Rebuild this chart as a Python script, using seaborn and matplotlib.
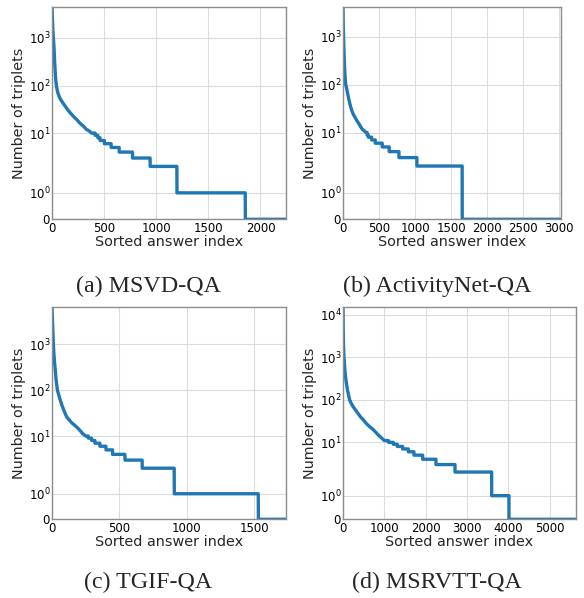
import matplotlib
matplotlib.use("Agg")
import matplotlib.pyplot as plt
import seaborn as sns
import pandas as pd
from matplotlib.ticker import MultipleLocator

# head of each curve: (sorted answer index, number of triplets)
msvd_head_idx = [0, 4, 8, 13, 17, 20, 25, 30, 33, 37, 42, 50, 60, 75, 90, 108, 126, 150, 180, 210,
                 240, 270, 302, 330, 360]
msvd_head_cnt = [4400, 2500, 1500, 1000, 750, 580, 330, 200, 158, 125, 100, 80, 66, 55, 48, 42, 37, 31, 26, 22,
                 19, 16, 14, 12, 11]
# tail: plateau count and the first index that has it
msvd_levels = [10, 9, 8, 7, 6, 5, 4, 3, 2, 1, 0]
msvd_starts = [380, 415, 440, 462, 503, 568, 645, 773, 942, 1199, 1855]
msvd_total = 2245

anet_head_idx = [0, 3, 8, 12, 16, 20, 25, 31, 38, 51, 65, 79, 95, 110, 125, 143, 165, 190, 212, 236,
                 262, 290]
anet_head_cnt = [4100, 2000, 1000, 600, 400, 270, 180, 130, 100, 83, 65, 51, 40, 33, 28, 24, 21, 18, 16, 14,
                 12, 11]
anet_levels = [10, 9, 8, 7, 6, 5, 4, 3, 2, 0]
anet_starts = [320, 335, 351, 398, 448, 545, 642, 777, 1026, 1655]
anet_total = 3030

tgif_head_idx = [0, 4, 10, 15, 22, 30, 40, 55, 70, 90, 109, 130, 150, 170, 190, 210, 232]
tgif_head_cnt = [6300, 3000, 1000, 550, 320, 170, 100, 70, 50, 35, 26, 22, 19, 17, 15, 13, 11]
tgif_levels = [10, 9, 8, 7, 6, 5, 4, 3, 2, 1, 0]
tgif_starts = [250, 270, 295, 319, 356, 401, 450, 542, 670, 908, 1532]
tgif_total = 1737

msrvtt_head_idx = [0, 5, 12, 24, 45, 70, 105, 160, 200, 250, 300, 350, 420, 490, 560, 630, 730, 850, 920]
msrvtt_head_cnt = [15000, 5000, 2000, 1000, 500, 300, 175, 100, 82, 68, 58, 50, 40, 34, 28, 24, 20, 15, 13]
msrvtt_levels = [11, 10, 9, 8, 7, 6, 5, 4, 3, 2, 1, 0]
msrvtt_starts = [1000, 1100, 1217, 1314, 1443, 1580, 1717, 1927, 2249, 2709, 3596, 4014]
msrvtt_total = 5635

captions = ["(a) MSVD-QA", "(b) ActivityNet-QA", "(c) TGIF-QA", "(d) MSRVTT-QA"]


def curve_table(head_idx, head_cnt, levels, starts, total):
    xs, ys = list(head_idx), list(head_cnt)
    ends = [s - 1 for s in starts[1:]] + [total]
    for lv, s, e in zip(levels, starts, ends):
        xs += [s, e]
        ys += [lv, lv]
    return pd.DataFrame({"index": xs, "count": ys})


sns.set_style("whitegrid", {"axes.edgecolor": "0.55", "grid.color": "0.86"})
plt.rcParams["font.family"] = ["DejaVu Sans"]

W, H = 584, 598
fig = plt.figure(figsize=(W / 100, H / 100), dpi=100)

# left, top, right, bottom in pixels
boxes = [(52, 7.3, 286, 219.3), (343, 7.3, 561.3, 219.3),
         (52, 307.3, 286, 519.3), (343, 307.3, 576, 519.3)]
tables = [curve_table(msvd_head_idx, msvd_head_cnt, msvd_levels, msvd_starts, msvd_total),
          curve_table(anet_head_idx, anet_head_cnt, anet_levels, anet_starts, anet_total),
          curve_table(tgif_head_idx, tgif_head_cnt, tgif_levels, tgif_starts, tgif_total),
          curve_table(msrvtt_head_idx, msrvtt_head_cnt, msrvtt_levels, msrvtt_starts, msrvtt_total)]
steps = [500, 500, 500, 1000]
cap_pos = [(148, 286), (437, 286), (148, 582), (437, 582)]

for (l, t, r, b), df, step, cap, (cx, cy) in zip(boxes, tables, steps, captions, cap_pos):
    ax = fig.add_axes([l / W, 1 - b / H, (r - l) / W, (b - t) / H])
    sns.lineplot(data=df, x="index", y="count", ax=ax, estimator=None, errorbar=None,
                 sort=False, color="#1f77b4", linewidth=2.4)
    ax.set_yscale("symlog", linthresh=2, linscale=1)
    ax.set_xlim(0, df["index"].max())
    ax.set_ylim(0, df["count"].max())
    ax.xaxis.set_major_locator(MultipleLocator(step))
    ax.grid(True, which="major", linewidth=0.8)
    ax.grid(False, which="minor")
    for s in ax.spines.values():
        s.set_linewidth(1.0)
    ax.tick_params(axis="x", labelsize=8.5, pad=2, length=0, colors="black")
    ax.tick_params(axis="y", labelsize=8.5, pad=1, length=0, colors="black")
    ax.tick_params(which="minor", length=0)
    ax.set_xlabel("Sorted answer index", fontsize=10.4, labelpad=0)
    ax.set_ylabel("Number of triplets", fontsize=10.4, labelpad=2)
    fig.text(cx / W, 1 - cy / H, cap, ha="center", va="center",
             family="Liberation Serif", fontsize=17.3)

fig.savefig("out.png", dpi=100)
